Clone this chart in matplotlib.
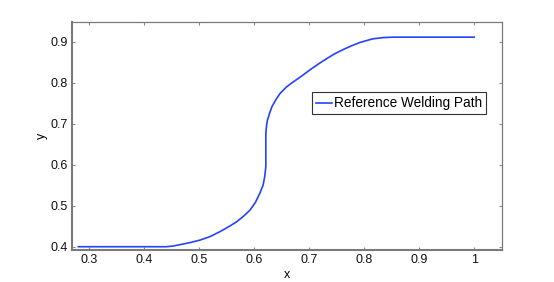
import matplotlib
matplotlib.use('Agg')
import matplotlib.pyplot as plt

plt.rcParams['font.family'] = ['Liberation Sans', 'DejaVu Sans']

# path points
path_x = [0.28, 0.44, 0.452, 0.465, 0.483, 0.501, 0.52, 0.538, 0.555, 0.568, 0.581,
          0.592, 0.602, 0.610, 0.616, 0.619, 0.621, 0.621, 0.621, 0.6215, 0.6225,
          0.624, 0.628, 0.632, 0.639, 0.647, 0.658, 0.671, 0.686, 0.701, 0.716, 0.732,
          0.747, 0.762, 0.777, 0.792, 0.805, 0.816, 0.835, 0.853, 0.87, 1.0]
path_y = [0.40, 0.40, 0.4015, 0.405, 0.410, 0.416, 0.425, 0.437, 0.450, 0.461, 0.475,
          0.489, 0.508, 0.530, 0.550, 0.571, 0.595, 0.64, 0.672, 0.685, 0.697,
          0.709, 0.726, 0.741, 0.758, 0.774, 0.789, 0.802, 0.816, 0.831, 0.845, 0.859,
          0.871, 0.881, 0.890, 0.898, 0.903, 0.907, 0.910, 0.911, 0.911, 0.911]

x_ticks = [0.3, 0.4, 0.5, 0.6, 0.7, 0.8, 0.9, 1.0]
x_tick_labels = ['0.3', '0.4', '0.5', '0.6', '0.7', '0.8', '0.9', '1']
y_ticks = [0.4, 0.5, 0.6, 0.7, 0.8, 0.9]
y_tick_labels = ['0.4', '0.5', '0.6', '0.7', '0.8', '0.9']

fig = plt.figure(figsize=(5.54, 2.82), dpi=100)
ax = fig.add_axes([0.130, 0.1135, 0.776, 0.8085])

ax.plot(path_x, path_y, color='#2442ff', linewidth=1.2, label='Reference Welding Path')

ax.set_xlim(0.2685, 1.0504)
ax.set_ylim(0.392, 0.948)
ax.set_xticks(x_ticks)
ax.set_xticklabels(x_tick_labels)
ax.set_yticks(y_ticks)
ax.set_yticklabels(y_tick_labels)

ax.tick_params(direction='in', length=2.3, width=0.8, colors='#888888',
               labelcolor='#111111', labelsize=9, pad=3,
               top=True, right=True)
for side in ['left', 'bottom']:
    ax.spines[side].set_linewidth(1.5)
    ax.spines[side].set_color('#7a7a7a')
for side in ['top', 'right']:
    ax.spines[side].set_linewidth(0.9)
    ax.spines[side].set_color('#7a7a7a')

ax.set_xlabel('x', fontsize=9, labelpad=2)
ax.set_ylabel('y', fontsize=9, labelpad=2)

leg = ax.legend(loc='upper right', bbox_to_anchor=(486.3 / 554, 1 - 92.3 / 282),
                bbox_transform=fig.transFigure, fancybox=False, framealpha=1,
                edgecolor='#333333', fontsize=9.8, handlelength=1.2,
                handletextpad=0.15, borderpad=0.3, borderaxespad=0)
leg.get_frame().set_linewidth(0.8)

fig.savefig('out.png', dpi=100)
